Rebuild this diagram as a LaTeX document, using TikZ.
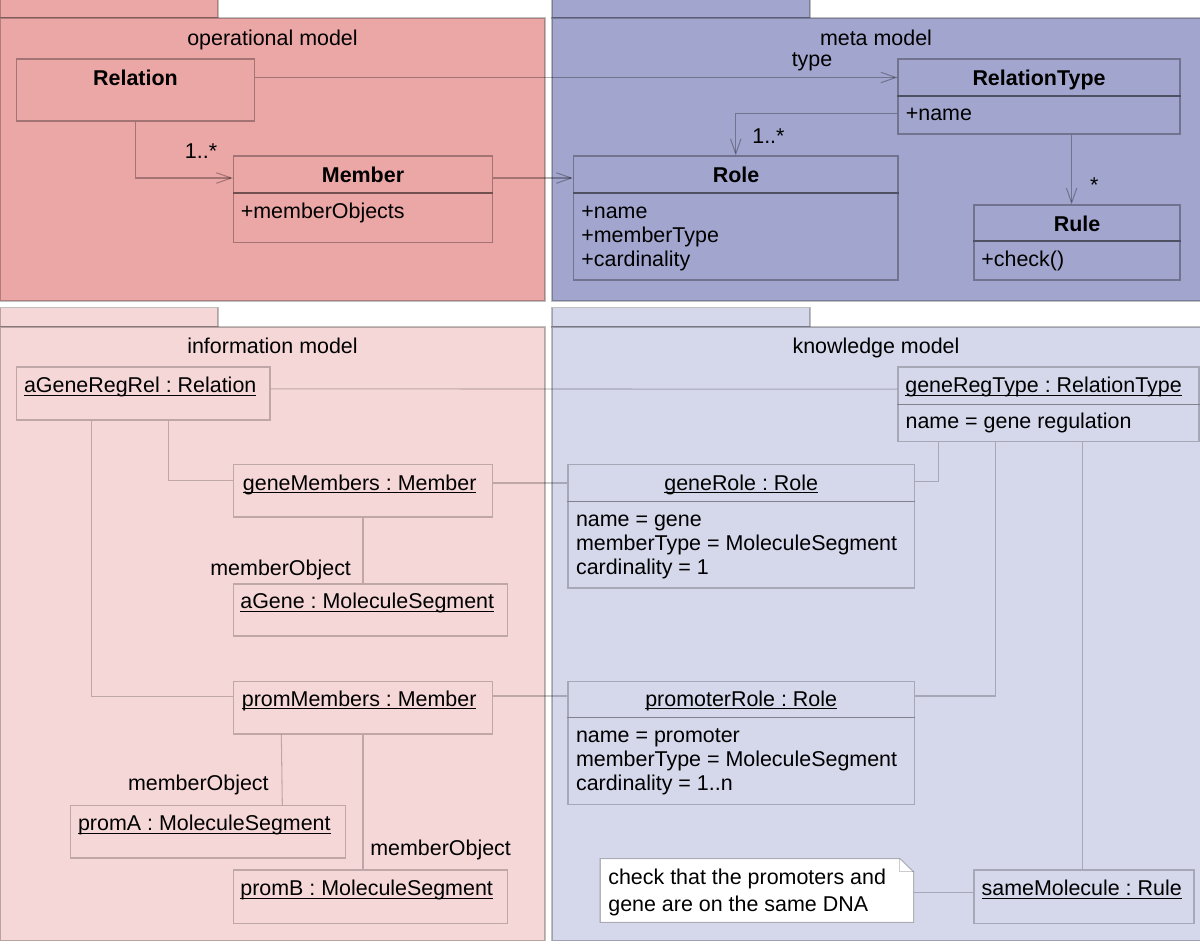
\documentclass[tikz,border=0pt]{standalone}
\usepackage{fontspec}
\setmainfont{Liberation Sans}
\frenchspacing
\usetikzlibrary{arrows.meta,positioning,fit,calc}
\definecolor{opfill}{HTML}{EBA6A6}
\definecolor{metafill}{HTML}{A2A6CE}
\definecolor{infofill}{HTML}{F6D7D7}
\definecolor{knowfill}{HTML}{D5D7EB}
\newcommand{\umlfont}{\fontsize{12.2}{13.6}\selectfont}
\newcommand{\objname}[1]{\setbox0\hbox{#1}\rlap{\rule[-1.9pt]{\wd0}{0.6pt}}\box0}
\tikzset{
  >={Straight Barb[length=3mm,width=2.1mm]},
  every node/.style={font=\umlfont,text=black},
  pkgbox/.style={draw=black,draw opacity=0.25,line width=0.6pt,inner sep=0pt},
  umlbox/.style={draw=black,draw opacity=0.3,line width=0.6pt,inner sep=0pt},
  objbox/.style={umlbox,draw opacity=0.22},
  notebox/.style={draw=black,draw opacity=0.25,line width=0.6pt,fill=white},
  lbl/.style={anchor=base,inner sep=0pt},
  lblw/.style={anchor=base west,inner sep=0pt},
  lble/.style={anchor=base east,inner sep=0pt},
  assoc/.style={draw=black,draw opacity=0.3,line width=0.6pt},
  objlink/.style={assoc,draw opacity=0.22},
  nav/.style={assoc,->},
}

\begin{document}
\begin{tikzpicture}[x=0.02cm,y=-0.02cm]
\useasboundingbox (0,0) rectangle (1200,947);

% packages
\node[pkgbox,fill=opfill,fit={(0.5,-1) (218,18)}] (opTab) {};
\node[pkgbox,fill=opfill,fit={(0.5,18) (545,301)}] (opPkg) {};
\node[pkgbox,fill=metafill,fit={(552,-1) (810,18)}] (metaTab) {};
\node[pkgbox,fill=metafill,fit={(552,18) (1201,301)}] (metaPkg) {};
\node[pkgbox,fill=infofill,fit={(0.5,307.5) (218,327)}] (infoTab) {};
\node[pkgbox,fill=infofill,fit={(0.5,327) (545,940.5)}] (infoPkg) {};
\node[pkgbox,fill=knowfill,fit={(552,307.5) (810,327)}] (knowTab) {};
\node[pkgbox,fill=knowfill,fit={(552,327) (1201,940.5)}] (knowPkg) {};

\node[lbl] (opName) at (272.5,45) {operational model};
\node[lbl] (metaName) at (876,45) {meta model};
\node[lbl] (infoName) at (272.5,353.3) {information model};
\node[lbl] (knowName) at (876,353.3) {knowledge model};

% operational model
\node[umlbox,fit={(16.5,59) (254.5,121)}] (relation) {};
\node[lbl] (relationT) at (135.5,85) {\textbf{Relation}};
\node[umlbox,fit={(233.5,156) (492.5,193)}] (memberH) {};
\node[umlbox,fit={(233.5,193) (492.5,242.5)}] (memberB) {};
\node[lbl] (memberT) at (363,182.7) {\textbf{Member}};
\node[lblw] (memberA) at (240.5,218) {+memberObjects};

% meta model
\node[umlbox,fit={(898,59) (1180,96)}] (relTypeH) {};
\node[umlbox,fit={(898,96) (1180,134)}] (relTypeB) {};
\node[lbl] (relTypeT) at (1039,85) {\textbf{RelationType}};
\node[lblw] (relTypeA) at (905.5,120) {+name};

\node[umlbox,fit={(573.5,156) (898,193)}] (roleH) {};
\node[umlbox,fit={(573.5,193) (898,280)}] (roleB) {};
\node[lbl] (roleT) at (736,182.7) {\textbf{Role}};
\foreach \t [count=\i from 0] in {+name,+memberType,+cardinality}
  \node[lblw] (roleA\i) at (581,{218.3+24*\i}) {\t};

\node[umlbox,fit={(974,205) (1180,241)}] (ruleH) {};
\node[umlbox,fit={(974,241) (1180,280)}] (ruleB) {};
\node[lbl] (ruleT) at (1077,231) {\textbf{Rule}};
\node[lblw] (ruleA) at (981,266.7) {+check()};

\draw[nav] (relation.south) |- ([yshift=-2pt]memberH.west);
\node[lbl] (memberMult) at (201,158) {1..*};
\draw[nav] ([yshift=-2pt]memberH.east) -- ([yshift=-2pt]memberH.east -| roleH.west);
\draw[nav] (relation.east |- relTypeH.west) -- (relTypeH.west);
\node[lbl] (typeLbl) at (812,66.7) {type};
\draw[nav] ([yshift=1pt]relTypeB.west) -| (roleH.north);
\node[lblw] (roleMult) at (752,143.3) {1..*};
\draw[nav] ([xshift=-0.108cm]ruleH.north |- relTypeB.south) -- ([xshift=-0.108cm]ruleH.north);
\node[lbl] (ruleMult) at (1094.4,192) {*};

% information model
\node[objbox,fit={(16.5,367) (270,420)}] (aGeneRegRel) {};
\node[lblw] (aGeneRegRelT) at (23.7,392.3) {\objname{aGeneRegRel : Relation}};
\node[objbox,fit={(233.5,464.7) (492.5,517)}] (geneMembers) {};
\node[lblw] (geneMembersT) at (242.6,490) {\objname{geneMembers : Member}};
\node[objbox,fit={(233.5,584) (507.8,636)}] (aGene) {};
\node[lblw] (aGeneT) at (240,608.3) {\objname{aGene : MoleculeSegment}};
\node[objbox,fit={(233.5,681.3) (492.5,734)}] (promMembers) {};
\node[lblw] (promMembersT) at (241.5,706) {\objname{promMembers : Member}};
\node[objbox,fit={(70.4,805.7) (345.6,858)}] (promA) {};
\node[lblw] (promAT) at (77.7,830.7) {\objname{promA : MoleculeSegment}};
\node[objbox,fit={(233.5,870) (507.8,923.3)}] (promB) {};
\node[lblw] (promBT) at (240,895.3) {\objname{promB : MoleculeSegment}};

\draw[objlink] ($(aGeneRegRel.south west)!0.598!(aGeneRegRel.south east)$) |- ($(geneMembers.north west)!0.31!(geneMembers.south west)$);
\draw[objlink] ($(aGeneRegRel.south west)!0.298!(aGeneRegRel.south east)$) |- ($(promMembers.north west)!0.3!(promMembers.south west)$);
\draw[objlink] (geneMembers.south) -- (geneMembers.south |- aGene.north);
\node[lble] (geneObjLbl) at (351.3,575) {memberObject};
\draw[objlink] ($(promMembers.south west)!0.186!(promMembers.south east)$) -- ($(promA.north west)!0.769!(promA.north east)$);
\node[lble] (promAObjLbl) at (269,790) {memberObject};
\draw[objlink] (promMembers.south) -- (promMembers.south |- promB.north);
\node[lblw] (promBObjLbl) at (370,855.3) {memberObject};

% knowledge model
\node[objbox,fit={(898,367) (1199,404.3)}] (geneRegTypeH) {};
\node[objbox,fit={(898,404.3) (1199,441.7)}] (geneRegTypeB) {};
\node[lblw] (geneRegTypeT) at (905,392.3) {\objname{geneRegType : RelationType}};
\node[lblw] (geneRegTypeA) at (905.3,428.3) {name = gene regulation};

\node[objbox,fit={(568,464.7) (914.4,501.3)}] (geneRoleH) {};
\node[objbox,fit={(568,501.3) (914.4,588)}] (geneRoleB) {};
\node[lbl] (geneRoleT) at (741.2,490) {\objname{geneRole : Role}};
\foreach \t [count=\i from 0] in {name = gene,memberType = MoleculeSegment,cardinality = 1}
  \node[lblw] (geneRoleA\i) at (575.7,{526.7+24*\i}) {\t};

\node[objbox,fit={(568,681.3) (914.4,717.7)}] (promRoleH) {};
\node[objbox,fit={(568,717.7) (914.4,804.3)}] (promRoleB) {};
\node[lbl] (promRoleT) at (741.2,706) {\objname{promoterRole : Role}};
\foreach \t [count=\i from 0] in {name = promoter,memberType = MoleculeSegment,cardinality = 1..n}
  \node[lblw] (promRoleA\i) at (575.7,{742.7+24*\i}) {\t};

\node[inner sep=0pt,fit={(600.6,859) (913.2,922)}] (note) {};
\draw[notebox] (note.south west) |- ([xshift=-0.274cm]note.north east) -- ([yshift=-0.266cm]note.north east) |- (note.south west) -- cycle;
\draw[assoc,draw opacity=0.2] ([xshift=-0.274cm]note.north east) |- ([yshift=-0.266cm]note.north east);
\node[lblw] (noteL1) at (608,884) {check that the promoters and};
\node[lblw] (noteL2) at (608,911.7) {gene are on the same DNA};

\node[objbox,fit={(974,870) (1194,923.3)}] (sameMol) {};
\node[lbl] (sameMolT) at (1081.7,895.3) {\objname{sameMolecule : Rule}};

\draw[objlink] ($(aGeneRegRel.north east)!0.415!(aGeneRegRel.south east)$) -- ($(geneRegTypeH.north west)!0.59!(geneRegTypeH.south west)$);
\draw[objlink] (geneMembers.east |- geneRoleH.west) -- (geneRoleH.west);
\draw[objlink] ([yshift=2pt]promMembers.east |- promRoleH.west) -- ([yshift=2pt]promRoleH.west);
\draw[objlink] ($(geneRegTypeB.south west)!0.136!(geneRegTypeB.south east)$) |- ([yshift=1pt]geneRoleH.east);
\draw[objlink] ($(geneRegTypeB.south west)!0.325!(geneRegTypeB.south east)$) |- ([yshift=2pt]promRoleH.east);
\draw[objlink] ([xshift=-0.034cm]sameMol.north |- geneRegTypeB.south) -- ([xshift=-0.034cm]sameMol.north);
\draw[objlink] ([yshift=-1pt]note.east) -- ([yshift=-1pt]note.east -| sameMol.west);

\end{tikzpicture}
\end{document}
